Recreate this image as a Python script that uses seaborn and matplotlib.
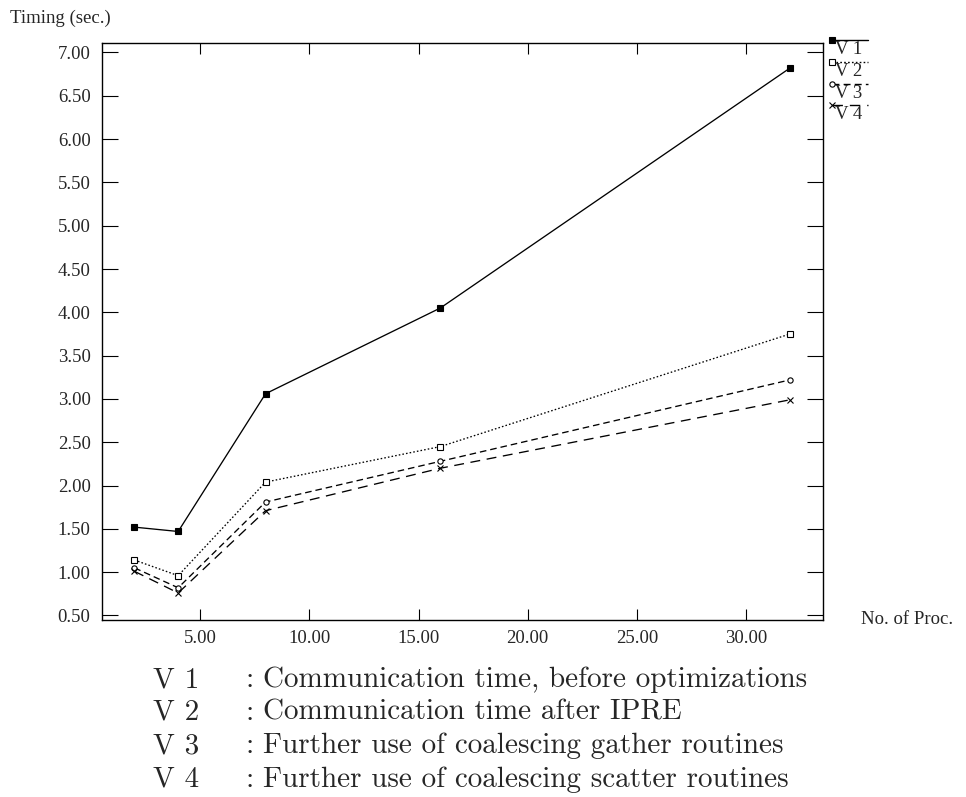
import matplotlib
matplotlib.use("Agg")
import matplotlib.pyplot as plt
import seaborn as sns
from matplotlib.lines import Line2D
from matplotlib.ticker import FormatStrFormatter

# ---- data ----
procs = [2, 4, 8, 16, 32]
v1 = [1.52, 1.47, 3.06, 4.05, 6.82]
v2 = [1.14, 0.96, 2.04, 2.45, 3.75]
v3 = [1.05, 0.82, 1.81, 2.28, 3.22]
v4 = [1.01, 0.76, 1.71, 2.20, 2.99]
series_names = ["V 1", "V 2", "V 3", "V 4"]
series_desc = [
    "Communication time, before optimizations",
    "Communication time after IPRE",
    "Further use of coalescing gather routines",
    "Further use of coalescing scatter routines",
]
x_ticks = [5, 10, 15, 20, 25, 30]
y_ticks = [0.5, 1.0, 1.5, 2.0, 2.5, 3.0, 3.5, 4.0, 4.5, 5.0, 5.5, 6.0, 6.5, 7.0]
y_label = "Timing (sec.)"
x_label = "No. of Proc."

# ---- styles ----
styles = [
    dict(marker="s", ms=4.5, mfc="black", ls="-"),
    dict(marker="s", ms=3.8, mfc="white", ls=(0, (1.2, 1.6))),
    dict(marker="o", ms=3.8, mfc="white", ls=(0, (5.0, 3.0))),
    dict(marker="x", ms=4.0, mfc="black", ls=(0, (7.5, 5.0))),
]

sns.set_theme(style="white")
plt.rcParams["font.family"] = ["Liberation Serif", "DejaVu Serif"]

W, H = 966, 797
fig = plt.figure(figsize=(W / 100, H / 100), dpi=100)
ax = fig.add_axes([101.7 / W, 1 - 620 / H, (822.7 - 101.7) / W, (620 - 42.7) / H])

for vals, st in zip([v1, v2, v3, v4], styles):
    sns.lineplot(x=procs, y=vals, ax=ax, color="black", linewidth=0.95,
                 marker=st["marker"], markersize=st["ms"], markerfacecolor=st["mfc"],
                 markeredgecolor="black", markeredgewidth=0.8, linestyle=st["ls"],
                 errorbar=None, legend=False)

ax.set_xlim(0.5, 33.5)
ax.set_ylim(0.448, 7.113)
ax.set_xticks(x_ticks)
ax.set_yticks(y_ticks)
ax.xaxis.set_major_formatter(FormatStrFormatter("%.2f"))
ax.yaxis.set_major_formatter(FormatStrFormatter("%.2f"))
ax.set_xlabel("")
ax.set_ylabel("")
for sp in ax.spines.values():
    sp.set_visible(True)
    sp.set_color("black")
    sp.set_linewidth(1.0)
ax.tick_params(axis="y", direction="in", length=11.5, width=0.8, color="black",
               left=True, right=True, labelleft=True, labelright=False,
               labelsize=13.5, pad=8)
ax.tick_params(axis="x", direction="in", length=8, width=0.8, color="black",
               bottom=True, top=True, labelbottom=True, labeltop=False,
               labelsize=13.5, pad=7)
ax.grid(False)

# axis titles
fig.text(10 / W, 1 - 18 / H, y_label, ha="left", va="center", fontsize=13.5)
fig.text(861 / W, 1 - 620 / H, x_label, ha="left", va="center", fontsize=13.5)

# legend at top right
leg_line_y = [40, 62, 83.5, 105]
for name, st, ly in zip(series_names, styles, leg_line_y):
    fig.add_artist(Line2D([832 / W, 868 / W], [1 - ly / H, 1 - ly / H],
                          transform=fig.transFigure, color="black", lw=1.0,
                          ls=st["ls"], marker=st["marker"], markevery=[0],
                          ms=st["ms"], mfc=st["mfc"], mec="black", mew=0.8))
    fig.text(835 / W, 1 - (ly + 9.5) / H, name, ha="left", va="center", fontsize=13.5)

# caption below
base_y = [687, 720, 753.3, 786.7]
for name, desc, by in zip(series_names, series_desc, base_y):
    fig.text(152.7 / W, 1 - by / H, name, ha="left", va="baseline",
             fontsize=21, family="cmr10")
    fig.text(245 / W, 1 - by / H, ":", ha="left", va="baseline",
             fontsize=21, family="cmr10")
    fig.text(263 / W, 1 - by / H, desc, ha="left", va="baseline",
             fontsize=21, family="cmr10")

fig.savefig("out.png", dpi=100, facecolor="white")
